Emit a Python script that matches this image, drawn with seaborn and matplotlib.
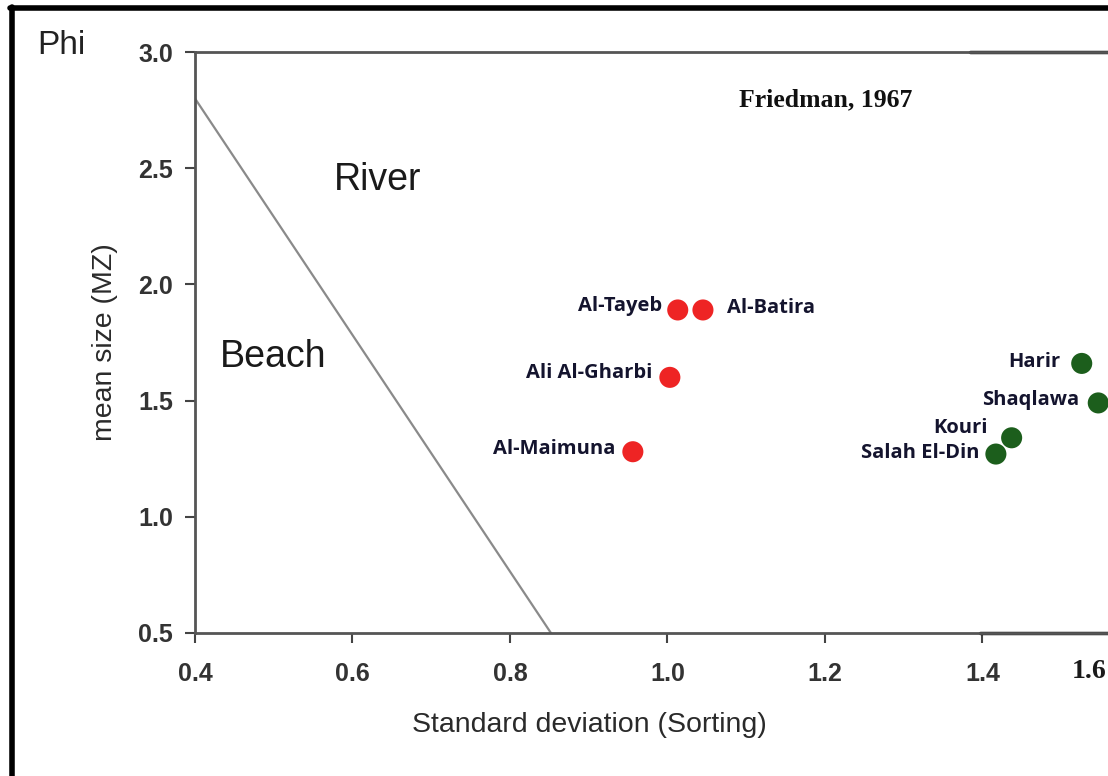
import matplotlib
matplotlib.use("Agg")
import matplotlib.pyplot as plt
from matplotlib.lines import Line2D
import seaborn as sns
import pandas as pd

# ---- data ----
sites = ["Al-Tayeb", "Al-Batira", "Ali Al-Gharbi", "Al-Maimuna",
         "Harir", "Shaqlawa", "Kouri", "Salah El-Din"]
sorting = [1.013, 1.045, 1.003, 0.956, 1.526, 1.547, 1.437, 1.417]
mean_size = [1.89, 1.89, 1.60, 1.28, 1.66, 1.49, 1.34, 1.27]
groups = ["red", "red", "red", "red", "green", "green", "green", "green"]
# Friedman (1967) beach/river boundary
line_x = [0.4, 0.852]
line_y = [2.8, 0.5]
x_ticks = [0.4, 0.6, 0.8, 1.0, 1.2, 1.4]
y_ticks = [0.5, 1.0, 1.5, 2.0, 2.5, 3.0]

df = pd.DataFrame({"site": sites, "sd": sorting, "mz": mean_size, "grp": groups})

sns.set_style("white")
plt.rcParams["font.family"] = ["Liberation Sans", "DejaVu Sans"]

fig = plt.figure(figsize=(11.08, 7.76), dpi=100)
W, H = 1108, 776
ax_left, ax_right, ax_top, ax_bot = 195, 1108, 52, 633
ax = fig.add_axes([ax_left / W, (H - ax_bot) / H, (ax_right - ax_left) / W, (ax_bot - ax_top) / H])

# boundary line
sns.lineplot(x=line_x, y=line_y, ax=ax, color="#8a8a8a", lw=1.6)

sns.scatterplot(data=df, x="sd", y="mz", hue="grp",
                palette={"red": "#ee2424", "green": "#1c5e1c"},
                s=230, edgecolor="none", ax=ax, legend=False, zorder=5, clip_on=False)

x_max = 0.4 + (ax_right - ax_left) / 787.5
ax.set_xlim(0.4, x_max)
ax.set_ylim(0.5, 3.0)

# labels
offsets = {
    "Al-Tayeb": (-16, 4, "right"),
    "Al-Batira": (24, 2, "left"),
    "Ali Al-Gharbi": (-18, 4, "right"),
    "Al-Maimuna": (-17, 3, "right"),
    "Harir": (-21, 1, "right"),
    "Shaqlawa": (-19, 3, "right"),
    "Kouri": (-24, 10, "right"),
    "Salah El-Din": (-16, 1, "right"),
}
for s, x, y in zip(sites, sorting, mean_size):
    dx, dy, ha = offsets[s]
    ax.annotate(s, (x, y), xytext=(dx, dy), textcoords="offset pixels",
                ha=ha, va="center", fontsize=14.5, fontweight="bold",
                family=["Open Sans", "DejaVu Sans"], color="#14142e", zorder=6)

# region labels
ax.text(0.632, 2.449, "River", fontsize=27, color="#1a1a1a", ha="center", va="center")
ax.text(0.499, 1.688, "Beach", fontsize=27, color="#1a1a1a", ha="center", va="center")
ax.text(1.201, 2.793, "Friedman, 1967", fontsize=18.5, fontweight="bold",
        family=["Liberation Serif", "DejaVu Serif"], color="#111111", ha="center", va="center")

# axes styling
ax.set_xticks(x_ticks)
ax.set_yticks(y_ticks)
ax.set_xticklabels([f"{v:.1f}" for v in x_ticks])
ax.set_yticklabels([f"{v:.1f}" for v in y_ticks])
ax.tick_params(axis="x", direction="out", length=7, width=1.5, color="#444444",
               pad=14, labelsize=18, labelcolor="#333333", bottom=True)
ax.tick_params(axis="y", direction="out", length=7, width=1.5, color="#444444",
               pad=9, labelsize=18, labelcolor="#333333", left=True)
for lab in ax.get_xticklabels() + ax.get_yticklabels():
    lab.set_fontweight("bold")
for side in ["left", "bottom", "top"]:
    ax.spines[side].set_visible(True)
    ax.spines[side].set_color("#555555")
    ax.spines[side].set_linewidth(2)
ax.spines["right"].set_visible(False)

# tick label at the right edge (1.6)
ax.annotate("1.6", xy=(1.0, 0.0), xycoords="axes fraction", xytext=(-1, -38),
            textcoords="offset pixels", ha="right", va="center",
            fontsize=20, fontweight="bold", color="#1a1a1a",
            family=["Liberation Serif", "DejaVu Serif"], annotation_clip=False)

ax.set_xlabel("Standard deviation (Sorting)", fontsize=20.5, color="#2a2a2a")
ax.set_ylabel("mean size (MZ)", fontsize=20.5, color="#2a2a2a")
ax.xaxis.set_label_coords((589 - ax_left) / (ax_right - ax_left), -(725 - ax_bot) / (ax_bot - ax_top))
ax.yaxis.set_label_coords((105 - ax_left) / (ax_right - ax_left), 0.5)
ax.xaxis.label.set_va("center")
ax.yaxis.label.set_va("center")

# darker right-hand parts of top and bottom frame
ax.axhline(3.0, xmin=(970 - ax_left) / (ax_right - ax_left), xmax=1, color="#111111", lw=2.5, clip_on=False)
ax.axhline(0.5, xmin=(980 - ax_left) / (ax_right - ax_left), xmax=1, color="#111111", lw=2.5, clip_on=False)

# "Phi" label
fig.text(61 / W, 1 - 45 / H, "Phi", fontsize=24, color="#222222", ha="center", va="center")

# outer black frame (left and top)
fig.add_artist(Line2D([12 / W, 12 / W], [0, 1 - 7 / H], color="black", lw=4, transform=fig.transFigure))
fig.add_artist(Line2D([10 / W, 1], [1 - 8 / H, 1 - 8 / H], color="black", lw=4, transform=fig.transFigure))

fig.savefig("out.png", dpi=100)
